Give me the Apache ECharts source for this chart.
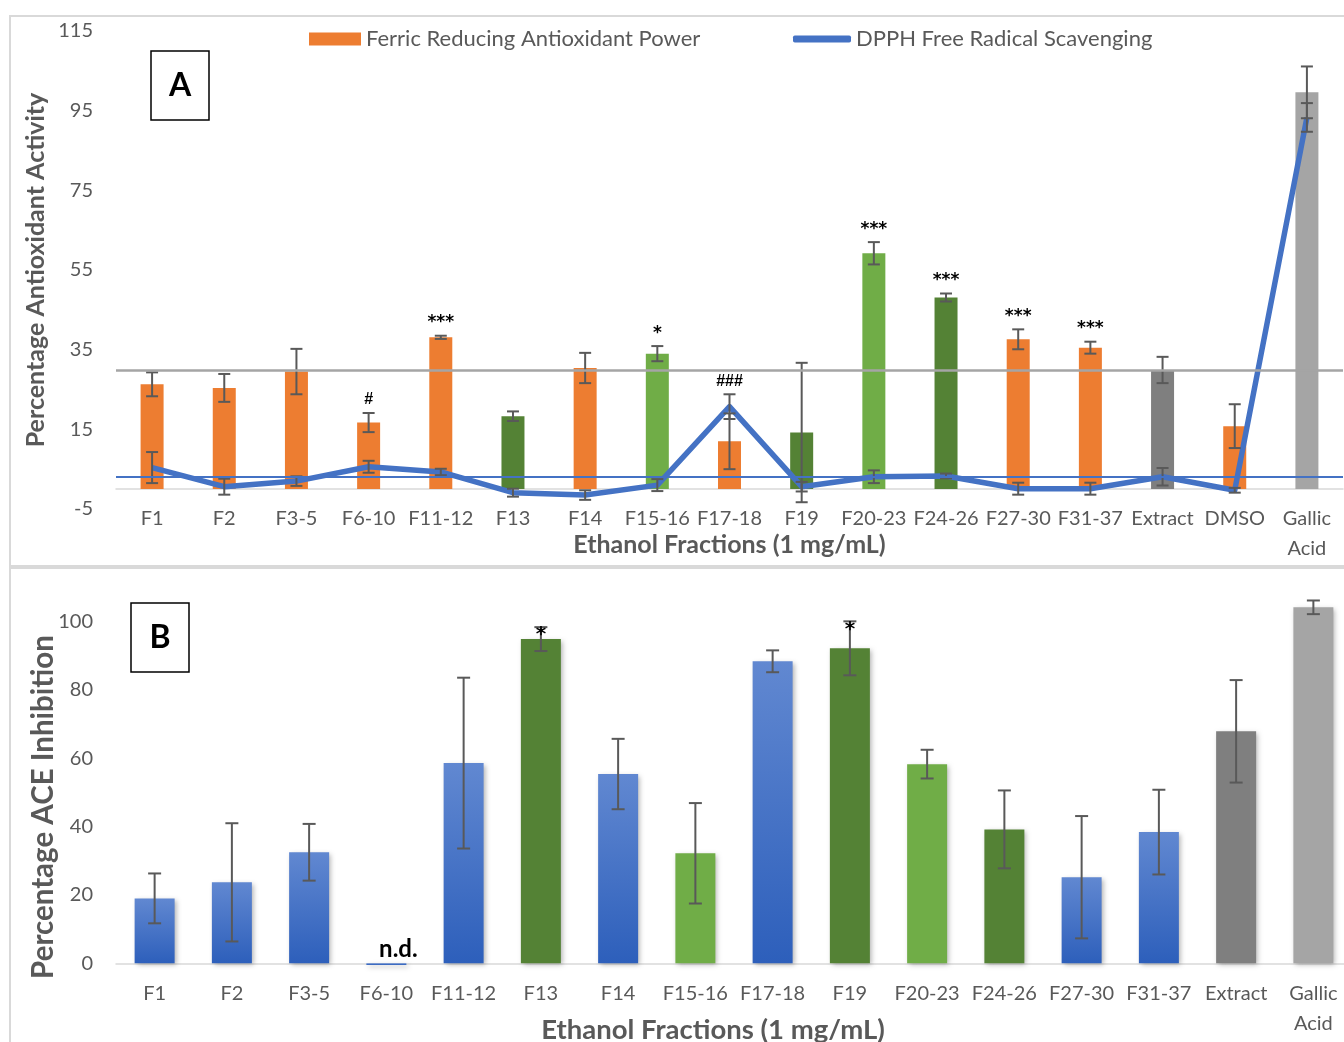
<!DOCTYPE html>
<html>
<head>
<meta charset="utf-8">
<script src="https://cdn.jsdelivr.net/npm/echarts@6/dist/echarts.min.js"></script>
<style>
html, body { margin: 0; padding: 0; background: #fff; }
#chart { width: 1344px; height: 1042px; }
</style>
</head>
<body>
<div id="chart"></div>
<script>
// panel A : FRAP bars + DPPH line
const fracsA = ['F1', 'F2', 'F3-5', 'F6-10', 'F11-12', 'F13', 'F14', 'F15-16', 'F17-18', 'F19', 'F20-23', 'F24-26', 'F27-30', 'F31-37', 'Extract', 'DMSO', 'Gallic Acid']
const frapMean = [26.3, 25.4, 29.5, 16.7, 38.1, 18.3, 30.4, 34.0, 12.0, 14.2, 59.2, 48.1, 37.6, 35.5, 29.9, 15.8, 99.6]
const frapErr = [3.0, 3.5, 5.7, 2.4, 0.4, 1.2, 3.8, 1.9, 7.0, 17.5, 2.8, 1.0, 2.5, 1.5, 3.3, 5.5, 6.5]
const dpphMean = [5.4, 0.6, 2.0, 5.6, 4.3, -0.9, -1.5, 1.0, 20.7, 0.6, 3.1, 3.3, 0.1, 0.1, 3.1, -0.3, 93.3]
const dpphErr = [3.9, 2.0, 1.2, 1.5, 0.8, 1.0, 1.2, 1.5, 3.1, 1.2, 1.6, 0.6, 1.5, 1.5, 2.2, 0.6, 3.6]
const sigA = ['', '', '', '#', '***', '', '', '*', '###', '', '***', '***', '***', '***', '', '', '']
const yTicksA = [-5, 115, 20] // min, max, step

// panel B : ACE inhibition
const fracsB = ['F1', 'F2', 'F3-5', 'F6-10', 'F11-12', 'F13', 'F14', 'F15-16', 'F17-18', 'F19', 'F20-23', 'F24-26', 'F27-30', 'F31-37', 'Extract', 'Gallic Acid']
const aceMean = [19.0, 23.7, 32.5, -0.5, 58.6, 94.9, 55.4, 32.2, 88.4, 92.2, 58.3, 39.2, 25.2, 38.4, 67.9, 104.2]
const aceErr = [7.3, 17.3, 8.3, 0, 25.0, 3.5, 10.3, 14.7, 3.2, 7.9, 4.2, 11.4, 17.9, 12.4, 15.0, 2.0]
const sigB = ['', '', '', 'n.d.', '', '*', '', '', '', '*', '', '', '', '', '', '']
const yTicksB = [0, 110, 20]

// colours
const OR = '#ED7D31', DG = '#548235', LG = '#70AD47', DK = '#7F7F7F', LK = '#A5A5A5', BL = '#4472C4'
const BLG = new echarts.graphic.LinearGradient(0, 0, 0, 1, [{ offset: 0, color: '#6188d1' }, { offset: 1, color: '#2d5fbb' }])
const colorsA = [OR, OR, OR, OR, OR, DG, OR, LG, OR, DG, LG, DG, OR, OR, DK, OR, LK]
const colorsB = [BLG, BLG, BLG, BLG, BLG, DG, BLG, LG, BLG, DG, LG, DG, BLG, BLG, DK, LK]
const TXT = '#595959'
const FONT = 'Lato'

function errorBars (capHalf) {
  return function (params, api) {
    const x = api.value(0)
    const m = api.value(1)
    const e = api.value(2)
    if (!e) return null
    const hi = api.coord([x, m + e])
    const lo = api.coord([x, m - e])
    const st = { stroke: '#595959', lineWidth: 2 }
    return {
      type: 'group',
      children: [
        { type: 'line', shape: { x1: hi[0], y1: hi[1], x2: lo[0], y2: lo[1] }, style: st },
        { type: 'line', shape: { x1: hi[0] - capHalf, y1: hi[1], x2: hi[0] + capHalf, y2: hi[1] }, style: st },
        { type: 'line', shape: { x1: lo[0] - capHalf, y1: lo[1], x2: lo[0] + capHalf, y2: lo[1] }, style: st }
      ]
    }
  }
}

// significance marks ('#' looks better in Liberation, '*' in DejaVu)
function marks (texts, dyFn, dxFn, sizeFn) {
  return function (params, api) {
    const t = texts[params.dataIndex]
    if (!t) return null
    const p = api.coord([api.value(0), api.value(1)])
    let fam = 'DejaVu Sans'
    if (t.indexOf('#') >= 0) fam = 'Liberation Sans'
    if (t === 'n.d.') fam = FONT
    return {
      type: 'text',
      style: {
        text: t,
        x: p[0] + dxFn(t),
        y: p[1] + dyFn(t),
        align: 'center',
        verticalAlign: 'middle',
        fontSize: sizeFn(t),
        fontWeight: 'bold',
        fontFamily: fam,
        fill: '#000'
      }
    }
  }
}

const extA = fracsA.indexOf('Extract')
const topA = frapMean.map((v, i) => Math.max(v + frapErr[i], dpphMean[i] + dpphErr[i]))
const topB = aceMean.map((v, i) => Math.max(v + aceErr[i], 0))

function catLabel (margin) {
  return {
    interval: 0,
    color: TXT,
    fontSize: 20,
    fontFamily: FONT,
    margin: margin,
    lineHeight: 30,
    formatter: v => v.replace(' ', '\n')
  }
}

const chart = echarts.init(document.getElementById('chart'))
chart.setOption({
  animation: false,
  textStyle: { fontFamily: FONT },
  grid: [
    { left: 116, width: 1227, top: 31, height: 478, containLabel: false, outerBoundsMode: 'none' },
    { left: 116, width: 1236, top: 587.5, height: 375.8, containLabel: false, outerBoundsMode: 'none' }
  ],
  legend: [
    {
      left: 309, top: 28, padding: 0, icon: 'rect', itemWidth: 52, itemHeight: 13, selectedMode: false,
      data: ['Ferric Reducing Antioxidant Power'],
      textStyle: { color: TXT, fontSize: 22, fontFamily: FONT }
    },
    {
      left: 793, top: 28, padding: 0, icon: 'roundRect', itemWidth: 58, itemHeight: 7, selectedMode: false,
      data: ['DPPH Free Radical Scavenging'],
      textStyle: { color: TXT, fontSize: 22, fontFamily: FONT }
    }
  ],
  xAxis: [
    {
      gridIndex: 0, type: 'category', data: fracsA,
      axisTick: { show: false },
      axisLine: { lineStyle: { color: '#D9D9D9', width: 1.5 } },
      axisLabel: catLabel(-5),
      name: 'Ethanol Fractions (1 mg/mL)', nameLocation: 'middle', nameGap: 23, nameMoveOverlap: false,
      nameTextStyle: { color: TXT, fontSize: 25, fontWeight: 'bold', fontFamily: FONT }
    },
    {
      gridIndex: 1, type: 'category', data: fracsB,
      axisTick: { show: false },
      axisLine: { lineStyle: { color: '#D9D9D9', width: 1.5 } },
      axisLabel: catLabel(15),
      name: 'Ethanol Fractions (1 mg/mL)', nameLocation: 'middle', nameGap: 53, nameMoveOverlap: false,
      nameTextStyle: { color: TXT, fontSize: 27.5, fontWeight: 'bold', fontFamily: FONT, padding: [0, 42, 0, 0] }
    }
  ],
  yAxis: [
    {
      gridIndex: 0, type: 'value', min: yTicksA[0], max: yTicksA[1], interval: yTicksA[2],
      splitLine: { show: false },
      axisLabel: { color: TXT, fontSize: 20, fontFamily: FONT, margin: 23 },
      name: 'Percentage Antioxidant Activity', nameLocation: 'middle', nameGap: 68, nameMoveOverlap: false,
      nameTextStyle: { color: TXT, fontSize: 25, fontWeight: 'bold', fontFamily: FONT }
    },
    {
      gridIndex: 1, type: 'value', min: yTicksB[0], max: yTicksB[1], interval: yTicksB[2],
      splitLine: { show: false },
      axisLabel: {
        color: TXT, fontSize: 20, fontFamily: FONT, margin: 23,
        formatter: v => (v % yTicksB[2] === 0 ? v : '')
      }
    }
  ],
  graphic: [
    { type: 'rect', shape: { x: 10, y: 16, width: 1340, height: 550 }, style: { fill: 'none', stroke: '#D9D9D9', lineWidth: 2 }, z: -1 },
    { type: 'rect', shape: { x: 10, y: 568, width: 1340, height: 480 }, style: { fill: 'none', stroke: '#D9D9D9', lineWidth: 2 }, z: -1 },
    { type: 'rect', shape: { x: 151, y: 51, width: 58, height: 69 }, style: { fill: '#fff', stroke: '#000', lineWidth: 1.5 } },
    { type: 'text', x: 180, y: 86, style: { text: 'A', align: 'center', verticalAlign: 'middle', fontSize: 32, fontWeight: 'bold', fontFamily: FONT, fill: '#000' } },
    { type: 'rect', shape: { x: 131, y: 603, width: 58, height: 69 }, style: { fill: '#fff', stroke: '#000', lineWidth: 1.5 } },
    { type: 'text', x: 160, y: 638, style: { text: 'B', align: 'center', verticalAlign: 'middle', fontSize: 32, fontWeight: 'bold', fontFamily: FONT, fill: '#000' } },
    { type: 'text', x: 43, y: 807, rotation: Math.PI / 2, style: { text: 'Percentage ACE Inhibition', align: 'center', verticalAlign: 'middle', fontSize: 29.5, fontWeight: 'bold', fontFamily: FONT, fill: TXT } }
  ],
  series: [
    {
      name: 'Ferric Reducing Antioxidant Power', type: 'bar', xAxisIndex: 0, yAxisIndex: 0,
      barWidth: 23, itemStyle: { color: OR },
      data: frapMean.map((v, i) => ({ value: v, itemStyle: { color: colorsA[i] } })),
      markLine: {
        symbol: 'none', silent: true, label: { show: false },
        lineStyle: { color: '#A5A5A5', width: 2.5, type: 'solid' },
        data: [{ yAxis: frapMean[extA] }]
      },
      z: 2
    },
    {
      name: 'DPPH Free Radical Scavenging', type: 'line', xAxisIndex: 0, yAxisIndex: 0,
      data: dpphMean, symbol: 'none', color: BL,
      lineStyle: { color: BL, width: 5.5, join: 'round' },
      markLine: {
        symbol: 'none', silent: true, label: { show: false },
        lineStyle: { color: BL, width: 2, type: 'solid' },
        data: [{ yAxis: dpphMean[extA] }]
      },
      z: 3
    },
    {
      type: 'custom', xAxisIndex: 0, yAxisIndex: 0, silent: true, z: 4,
      renderItem: errorBars(6), encode: { x: 0, y: 1 },
      data: frapMean.map((v, i) => [i, v, frapErr[i]])
    },
    {
      type: 'custom', xAxisIndex: 0, yAxisIndex: 0, silent: true, z: 4,
      renderItem: errorBars(6), encode: { x: 0, y: 1 },
      data: dpphMean.map((v, i) => [i, v, dpphErr[i]])
    },
    {
      type: 'custom', xAxisIndex: 0, yAxisIndex: 0, silent: true, z: 5,
      renderItem: marks(sigA, () => -13, () => 0, t => (t.indexOf('#') >= 0 ? 16 : 17)), encode: { x: 0, y: 1 },
      data: topA.map((v, i) => [i, v])
    },
    {
      name: 'ACE', type: 'bar', xAxisIndex: 1, yAxisIndex: 1, barWidth: 40, clip: false,
      itemStyle: { shadowBlur: 5, shadowColor: 'rgba(0,0,0,0.3)', shadowOffsetX: 2, shadowOffsetY: 2 },
      data: aceMean.map((v, i) => ({ value: v, itemStyle: { color: colorsB[i] } })),
      z: 2
    },
    {
      type: 'custom', xAxisIndex: 1, yAxisIndex: 1, silent: true, z: 4,
      renderItem: errorBars(6.5), encode: { x: 0, y: 1 },
      data: aceMean.map((v, i) => [i, v, aceErr[i]])
    },
    {
      type: 'custom', xAxisIndex: 1, yAxisIndex: 1, silent: true, z: 5,
      renderItem: marks(sigB, t => (t === 'n.d.' ? -14 : 8), t => (t === 'n.d.' ? 12 : 0), t => (t === 'n.d.' ? 24 : 20)),
      encode: { x: 0, y: 1 },
      data: topB.map((v, i) => [i, v])
    }
  ]
})
</script>
</body>
</html>
